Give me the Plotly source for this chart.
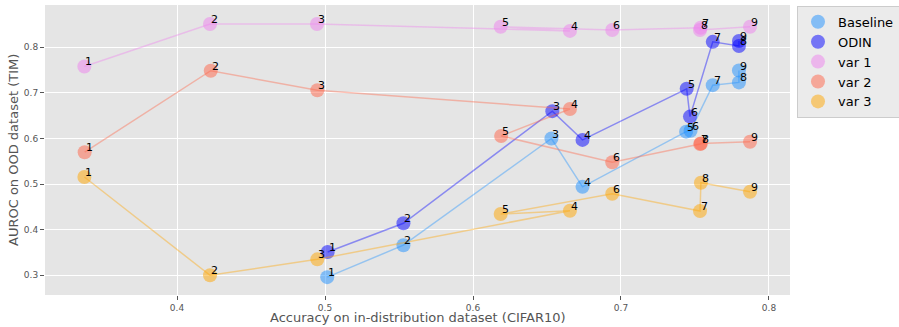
import plotly.graph_objects as go

labels = ["1", "2", "3", "4", "5", "6", "7", "8", "9"]

baseline_x = [0.5015, 0.553, 0.653, 0.674, 0.744, 0.747, 0.762, 0.7797, 0.7797]
baseline_y = [0.296, 0.366, 0.600, 0.494, 0.615, 0.617, 0.717, 0.723, 0.749]

odin_x = [0.5018, 0.553, 0.6536, 0.674, 0.7444, 0.7466, 0.762, 0.7797, 0.7797]
odin_y = [0.351, 0.414, 0.660, 0.597, 0.709, 0.648, 0.812, 0.803, 0.814]

var1_x = [0.3374, 0.4223, 0.4946, 0.6655, 0.6187, 0.6941, 0.7538, 0.7534, 0.7872]
var1_y = [0.758, 0.851, 0.851, 0.836, 0.845, 0.838, 0.843, 0.838, 0.845]

var2_x = [0.3376, 0.4228, 0.4948, 0.6655, 0.619, 0.6941, 0.7535, 0.754, 0.7872]
var2_y = [0.570, 0.7487, 0.7057, 0.6647, 0.6055, 0.5478, 0.588, 0.589, 0.593]

var3_x = [0.3374, 0.4223, 0.4948, 0.6655, 0.6187, 0.6941, 0.7534, 0.754, 0.7872]
var3_y = [0.5156, 0.300, 0.335, 0.4417, 0.4344, 0.479, 0.4408, 0.503, 0.4834]

x_ticks = [0.4, 0.5, 0.6, 0.7, 0.8]
y_ticks = [0.3, 0.4, 0.5, 0.6, 0.7, 0.8]

series = [
    ("Baseline", baseline_x, baseline_y, (30, 144, 255)),
    ("ODIN", odin_x, odin_y, (0, 0, 255)),
    ("var 1", var1_x, var1_y, (238, 130, 238)),
    ("var 2", var2_x, var2_y, (255, 99, 71)),
    ("var 3", var3_x, var3_y, (255, 165, 0)),
]

fig = go.Figure()

for name, xs, ys, c in series:
    fig.add_trace(go.Scatter(
        x=xs, y=ys, mode="lines", showlegend=False, hoverinfo="skip",
        line=dict(color="rgba(%d,%d,%d,0.4)" % c, width=1.5),
    ))
    fig.add_trace(go.Scatter(
        x=xs, y=ys, mode="markers", name=name,
        marker=dict(color="rgba(%d,%d,%d,0.5)" % c, size=14, line=dict(width=0)),
    ))

for name, xs, ys, c in series:
    for lab, x, y in zip(labels, xs, ys):
        fig.add_annotation(
            x=x, y=y, text=lab, showarrow=False, xanchor="left", yanchor="bottom",
            xshift=-1, yshift=-4, font=dict(size=11, color="black", family="DejaVu Sans"),
        )

fig.add_annotation(
    xref="paper", yref="paper", x=0.5, y=-0.079, yanchor="middle", xanchor="center",
    text="Accuracy on in-distribution dataset (CIFAR10)", showarrow=False,
    font=dict(size=13, color="#555555"),
)
fig.add_annotation(
    xref="paper", yref="paper", x=-0.043, y=0.5, yanchor="middle", xanchor="center",
    text="AUROC on OOD dataset (TIM)", showarrow=False, textangle=-90,
    font=dict(size=13, color="#555555"),
)

fig.update_layout(
    width=899, height=327,
    margin=dict(l=45, r=109, t=5, b=32, autoexpand=False),
    plot_bgcolor="#E5E5E5", paper_bgcolor="white",
    font=dict(family="DejaVu Sans", color="#555555"),
    legend=dict(
        x=1.0094, y=0.997, xanchor="left", yanchor="top",
        bgcolor="#EBEBEB", bordercolor="#CCCCCC", borderwidth=1,
        font=dict(size=13, color="black"),
    ),
    xaxis=dict(
        range=[0.3108, 0.8142], tickvals=x_ticks, ticktext=[str(v) for v in x_ticks],
        showgrid=True, gridcolor="white", gridwidth=1, zeroline=False, automargin=False,
        ticks="outside", ticklen=4, tickcolor="#555555", tickfont=dict(size=9, color="#555555"),
    ),
    yaxis=dict(
        range=[0.2568, 0.8928], tickvals=y_ticks, ticktext=[str(v) for v in y_ticks],
        showgrid=True, gridcolor="white", gridwidth=1, zeroline=False, automargin=False,
        ticks="outside", ticklen=4, tickcolor="#555555", tickfont=dict(size=9, color="#555555"),
    ),
)

fig.write_html(
    "out.html",
    config={"displayModeBar": False},
    post_script="document.body.style.margin='0';document.body.style.overflow='hidden';",
)
